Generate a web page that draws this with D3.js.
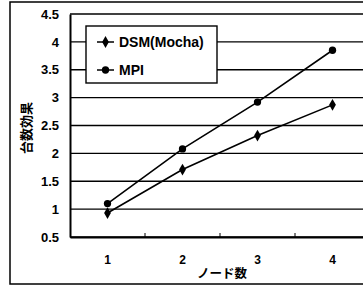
<!DOCTYPE html>
<html>
<head>
<meta charset="utf-8">
<script src="https://cdn.jsdelivr.net/npm/d3@7"></script>
<style>
  body { margin: 0; background: #fff; }
  svg { display: block; }
  text { font-family: "Liberation Sans", Arial, sans-serif; font-weight: bold; fill: #000; }
  .jp { font-family: "Noto Sans CJK JP", sans-serif; font-weight: bold; }
</style>
</head>
<body>
<script>
// chart data
var nodes = ['1', '2', '3', '4'];
var dsmValues = [0.93, 1.71, 2.32, 2.87];
var mpiValues = [1.1, 2.08, 2.92, 3.85];
var yTicks = [0.5, 1, 1.5, 2, 2.5, 3, 3.5, 4, 4.5];
var seriesNames = ['DSM(Mocha)', 'MPI'];

var width = 363, height = 286;
var plot = { left: 70, top: 14, right: 370, bottom: 237 };

var svg = d3.select('body').append('svg')
    .attr('width', width)
    .attr('height', height);

// outer frame
svg.append('rect')
    .attr('x', 10).attr('y', 2)
    .attr('width', 380).attr('height', 282)
    .attr('fill', 'none').attr('stroke', '#000').attr('stroke-width', 1.5);

var x = d3.scaleBand().domain(nodes).range([plot.left, plot.right]);
var y = d3.scaleLinear().domain([0.5, 4.5]).range([plot.bottom, plot.top]);

// gridlines
svg.append('g').selectAll('line')
    .data(yTicks)
    .enter().append('line')
    .attr('x1', plot.left).attr('x2', plot.right)
    .attr('y1', function(d) { return y(d); })
    .attr('y2', function(d) { return y(d); })
    .attr('stroke', '#000').attr('stroke-width', 1.4);

// y axis
var yAxis = svg.append('g')
    .attr('transform', 'translate(' + plot.left + ',0)')
    .call(d3.axisLeft(y).tickValues(yTicks).tickSize(0).tickPadding(11)
        .tickFormat(function(d) { return d; }));
yAxis.select('.domain').attr('stroke', '#000').attr('stroke-width', 2);
yAxis.selectAll('text').style('font-size', '13px');

// x axis
var xAxis = svg.append('g')
    .attr('transform', 'translate(0,' + plot.bottom + ')')
    .call(d3.axisBottom(x).tickSize(0).tickPadding(18));
xAxis.select('.domain').attr('stroke', '#000').attr('stroke-width', 2);
xAxis.selectAll('text').style('font-size', '12px');

// inward tick marks between categories
svg.append('g').selectAll('line')
    .data(nodes.slice(1))
    .enter().append('line')
    .attr('x1', function(d) { return x(d); })
    .attr('x2', function(d) { return x(d); })
    .attr('y1', plot.bottom).attr('y2', plot.bottom - 4)
    .attr('stroke', '#000').attr('stroke-width', 1);

// axis titles
svg.append('text')
    .attr('class', 'jp')
    .attr('transform', 'translate(25,128) rotate(-90)')
    .attr('text-anchor', 'middle')
    .attr('dominant-baseline', 'central')
    .style('font-size', '13px')
    .text('台数効果');

svg.append('text')
    .attr('class', 'jp')
    .attr('x', 222).attr('y', 278)
    .attr('text-anchor', 'middle')
    .style('font-size', '12.5px')
    .text('ノード数');

// series lines
var line = d3.line()
    .x(function(d, i) { return x(nodes[i]) + x.bandwidth() / 2; })
    .y(function(d) { return y(d); });

[dsmValues, mpiValues].forEach(function(vals) {
    svg.append('path')
        .datum(vals)
        .attr('d', line)
        .attr('fill', 'none')
        .attr('stroke', '#000')
        .attr('stroke-width', 1.6);
});

var diamond = d3.symbol().type(d3.symbolDiamond).size(40);
var circle = d3.symbol().type(d3.symbolCircle).size(42);

svg.append('g').selectAll('path')
    .data(dsmValues)
    .enter().append('path')
    .attr('d', diamond)
    .attr('transform', function(d, i) {
        return 'translate(' + (x(nodes[i]) + x.bandwidth() / 2) + ',' + y(d) + ')';
    })
    .attr('fill', '#000');

svg.append('g').selectAll('path')
    .data(mpiValues)
    .enter().append('path')
    .attr('d', circle)
    .attr('transform', function(d, i) {
        return 'translate(' + (x(nodes[i]) + x.bandwidth() / 2) + ',' + y(d) + ')';
    })
    .attr('fill', '#000');

// legend
var legend = svg.append('g').attr('transform', 'translate(86,26)');
legend.append('rect')
    .attr('width', 131).attr('height', 57)
    .attr('fill', '#fff').attr('stroke', '#000').attr('stroke-width', 1.4);

var symbols = [diamond, circle];
seriesNames.forEach(function(name, i) {
    var ly = 16 + i * 28;
    legend.append('line')
        .attr('x1', 11).attr('x2', 28)
        .attr('y1', ly).attr('y2', ly)
        .attr('stroke', '#000').attr('stroke-width', 1.5);
    legend.append('path')
        .attr('d', symbols[i])
        .attr('transform', 'translate(19.5,' + ly + ')')
        .attr('fill', '#000');
    legend.append('text')
        .attr('x', 33).attr('y', ly + 5)
        .style('font-size', '14px')
        .text(name);
});
</script>
</body>
</html>
